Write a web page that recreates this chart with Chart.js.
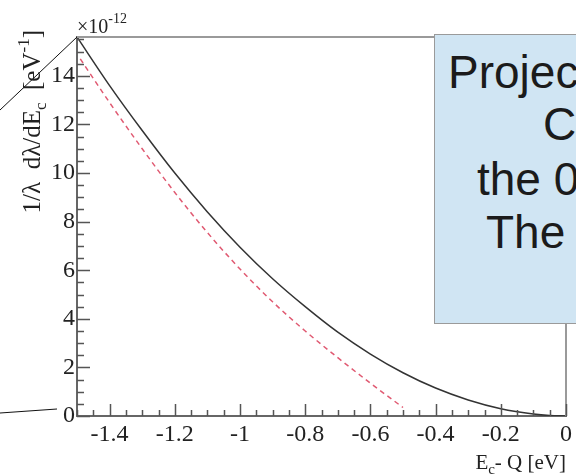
<!DOCTYPE html>
<html>
<head>
<meta charset="utf-8">
<script src="https://cdn.jsdelivr.net/npm/chart.js@4"></script>
<style>
  body { margin: 0; width: 576px; height: 474px; overflow: hidden; position: relative; background: #fff; }
  #c { position: absolute; left: 0; top: 0; }
  #note {
    position: absolute; left: 434px; top: 34px; width: 200px; height: 288px;
    background: #d0e5f3; border: 1px solid #9a9a9a;
    font-family: "Liberation Sans", Arial, sans-serif; font-size: 46px; line-height: 53px; color: #1b1b1b;
  }
  #note span { position: absolute; white-space: nowrap; }
</style>
</head>
<body>
<canvas id="c" width="576" height="474"></canvas>
<div id="note">
  <span style="left:13px; top:11px">Projec</span>
  <span style="left:108px; top:63px">C</span>
  <span style="left:42px; top:118px">the 0</span>
  <span style="left:51px; top:171px">The</span>
</div>
<script>
const xTickValues = [-1.4, -1.2, -1, -0.8, -0.6, -0.4, -0.2, 0]
const yTickValues = [0, 2, 4, 6, 8, 10, 12, 14]

// full spectrum (solid black)
const energyBlack = [-1.5, -1.4, -1.3, -1.2, -1.1, -1.0, -0.9, -0.8, -0.7, -0.6, -0.5, -0.4, -0.3, -0.2, -0.1, -0.05, 0]
const rateBlack = [15.6, 13.6, 11.75, 10.0, 8.4, 6.95, 5.65, 4.5, 3.45, 2.55, 1.78, 1.15, 0.66, 0.3, 0.08, 0.02, 0]

// dashed red
const energyRed = [-1.49, -1.4, -1.3, -1.2, -1.1, -1.0, -0.9, -0.8, -0.7, -0.6, -0.5]
const rateRed = [14.7, 12.9, 11.0, 9.2, 7.55, 6.05, 4.7, 3.5, 2.4, 1.35, 0.35]

const SERIF = '"Liberation Serif", "Times New Roman", serif'

const toPoints = (xs, ys) => xs.map((x, i) => ({ x: x, y: ys[i] }))

// draws a row of text pieces (for sub/superscripts), returns width
const drawPieces = (ctx, pieces, x, y, measureOnly) => {
    let w = 0
    pieces.forEach(p => {
        ctx.font = p.size + 'px ' + SERIF
        if (!measureOnly) ctx.fillText(p.t, x + w, y + (p.dy || 0))
        w += ctx.measureText(p.t).width
    })
    return w
}

const decor = {
    id: 'decor',
    afterDraw(chart) {
        const { ctx, chartArea: a, scales: { x, y } } = chart
        ctx.save()

        // top and right frame
        ctx.strokeStyle = '#9a9a9a'
        ctx.lineWidth = 2
        ctx.beginPath()
        ctx.moveTo(a.left, a.top)
        ctx.lineTo(a.right, a.top)
        ctx.lineTo(a.right, a.bottom)
        ctx.stroke()

        // inward ticks
        ctx.strokeStyle = '#555'
        ctx.lineWidth = 1.5
        ctx.beginPath()
        for (let i = 0; i <= 30; i++) {
            const v = -1.5 + i * 0.05
            const major = xTickValues.some(t => Math.abs(t - v) < 1e-6)
            const px = Math.round(x.getPixelForValue(v)) + 0.5
            ctx.moveTo(px, a.bottom)
            ctx.lineTo(px, a.bottom - (major ? 12 : 6))
        }
        for (let i = 0; i * 0.5 <= y.max; i++) {
            const v = i * 0.5
            const major = yTickValues.includes(v)
            const py = Math.round(y.getPixelForValue(v)) + 0.5
            ctx.moveTo(a.left, py)
            ctx.lineTo(a.left + (major ? 13 : 7), py)
        }
        ctx.stroke()

        // slide pointer lines
        ctx.strokeStyle = '#111'
        ctx.lineWidth = 1
        ctx.beginPath()
        ctx.moveTo(0, 110)
        ctx.lineTo(a.left, a.top)
        ctx.moveTo(0, 413)
        ctx.lineTo(57, 409)
        ctx.stroke()

        ctx.fillStyle = '#222'
        ctx.textBaseline = 'alphabetic'
        ctx.textAlign = 'left'

        // multiplier
        drawPieces(ctx, [
            { t: '\u00d710', size: 20 },
            { t: '-12', size: 14, dy: -10 }
        ], a.left, 33)

        // x title
        const xt = [
            { t: 'E', size: 21 },
            { t: 'c', size: 15, dy: 5 },
            { t: '- Q [eV]', size: 21 }
        ]
        const xw = drawPieces(ctx, xt, 0, 0, true)
        drawPieces(ctx, xt, a.right - xw, 469)

        // y title
        const yt = [
            { t: '1/\u03bb  d\u03bb/dE', size: 25 },
            { t: 'c', size: 17, dy: 6 },
            { t: '  [eV', size: 25 },
            { t: '-1', size: 17, dy: -11 },
            { t: ']', size: 25 }
        ]
        const yw = drawPieces(ctx, yt, 0, 0, true)
        ctx.translate(40, 30 + yw)
        ctx.rotate(-Math.PI / 2)
        drawPieces(ctx, yt, 0, 0)

        ctx.restore()
    }
}

new Chart(document.getElementById('c'), {
    type: 'line',
    data: {
        datasets: [{
            data: toPoints(energyBlack, rateBlack),
            borderColor: '#333',
            borderWidth: 1.5,
            pointRadius: 0,
            cubicInterpolationMode: 'monotone'
        }, {
            data: toPoints(energyRed, rateRed),
            borderColor: '#e05a72',
            borderWidth: 1.5,
            borderDash: [5, 4],
            pointRadius: 0,
            cubicInterpolationMode: 'monotone'
        }]
    },
    options: {
        responsive: false,
        animation: false,
        layout: { padding: { top: 37, right: 6, left: 0, bottom: 0 } },
        plugins: { legend: { display: false }, tooltip: { enabled: false } },
        scales: {
            x: {
                type: 'linear',
                min: -1.5,
                max: 0,
                afterBuildTicks: s => { s.ticks = xTickValues.map(v => ({ value: v })) },
                afterFit: s => { s.height = 58 },
                grid: { display: false, drawTicks: false },
                border: { display: true, color: '#666', width: 2 },
                ticks: {
                    autoSkip: false, maxRotation: 0, padding: 4, color: '#222',
                    font: { family: SERIF, size: 24 },
                    callback: v => String(v)
                }
            },
            y: {
                min: 0,
                max: 15.6,
                afterBuildTicks: s => { s.ticks = yTickValues.map(v => ({ value: v })) },
                afterFit: s => { s.width = 77 },
                grid: { display: false, drawTicks: false },
                border: { display: true, color: '#666', width: 2 },
                ticks: {
                    padding: 2, color: '#222',
                    font: { family: SERIF, size: 24 },
                    callback: v => String(v)
                }
            }
        }
    },
    plugins: [decor]
})
</script>
</body>
</html>
